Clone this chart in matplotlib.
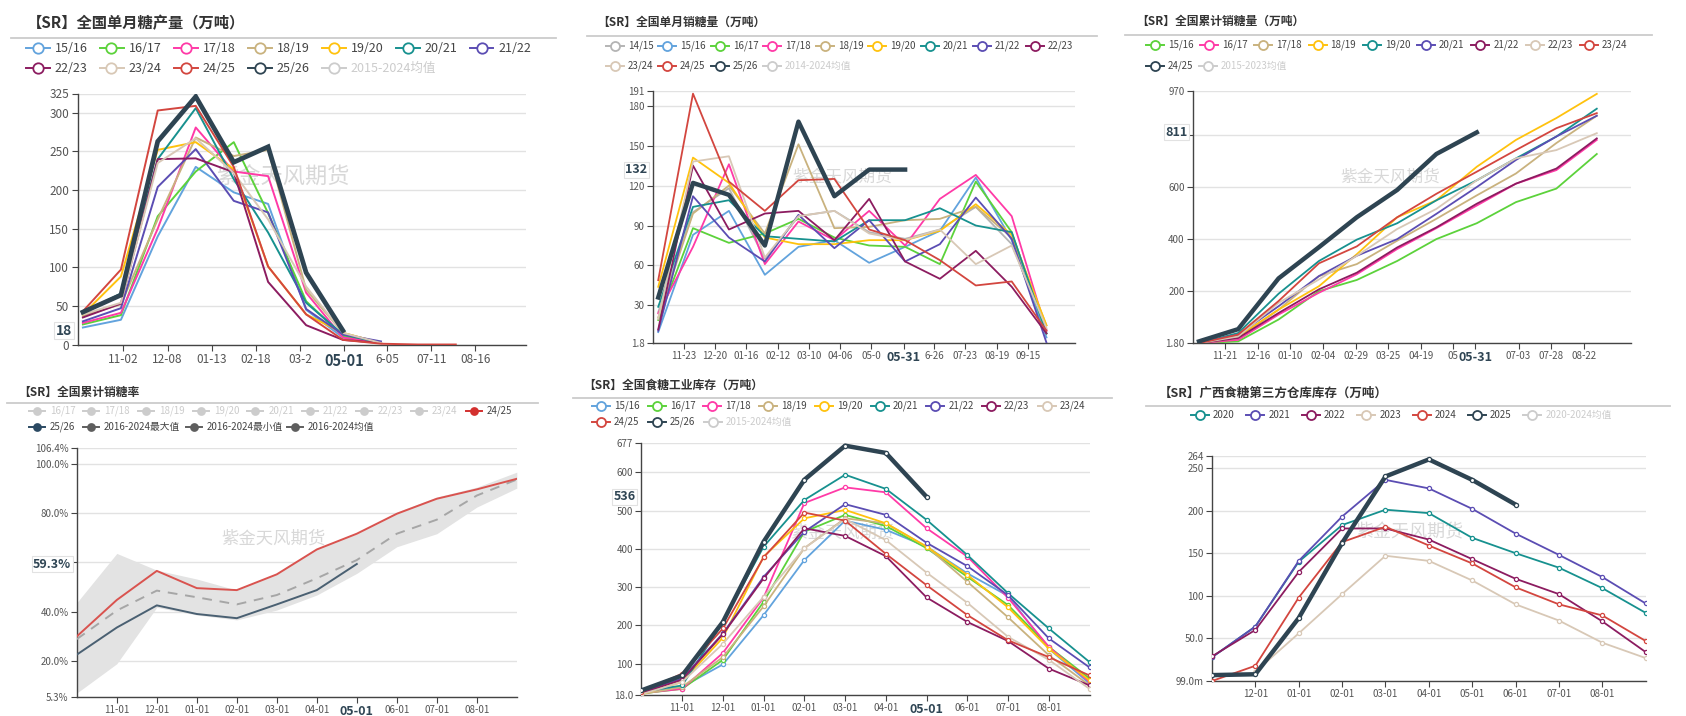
import matplotlib
matplotlib.use("Agg")
import matplotlib.pyplot as plt
import matplotlib.transforms as mtransforms
from matplotlib.lines import Line2D
import numpy as np
import pandas as pd

plt.rcParams['font.family'] = ['Noto Sans CJK SC', 'DejaVu Sans']
plt.rcParams['axes.unicode_minus'] = False

# ---------------- data ----------------
# 1) national monthly sugar output (month-end points)
prod_dates = ['2022-09-30', '2022-10-31', '2022-11-30', '2022-12-31', '2023-01-31', '2023-02-28',
              '2023-03-31', '2023-04-30', '2023-05-31', '2023-06-30', '2023-07-31']
prod_labels = ['15/16', '16/17', '17/18', '18/19', '19/20', '20/21', '21/22',
               '22/23', '23/24', '24/25', '25/26', '2015-2024均值']
prod_values = [
    [22, 32, 140, 230, 197, 182, 45, 9, 2],
    [26, 38, 166, 224, 262, 170, 56, 11, 2],
    [28, 41, 150, 281, 224, 218, 67, 9, 2],
    [37, 52, 162, 268, 244, 252, 71, 15, 2],
    [39, 88, 252, 262, 227, 101, 39, 15, 2],
    [42, 66, 240, 306, 214, 145, 54, 13, 2],
    [30, 47, 204, 253, 186, 171, 46, 13, 4],
    [35, 53, 240, 241, 223, 81, 25, 6, 2],
    [39, 54, 235, 267, 222, 162, 75, 15, 2],
    [43, 97, 303, 309, 230, 101, 39, 6, 1, 0, 0],
    [42, 64, 263, 321, 236, 256, 93, 18],
]
prod_ticks = ['2022-11-02', '2022-12-08', '2023-01-13', '2023-02-18', '2023-03-26',
              '2023-05-01', '2023-06-05', '2023-07-11', '2023-08-16']
prod_tick_labels = ['11-02', '12-08', '01-13', '02-18', '03-2', '05-01', '6-05', '07-11', '08-16']

# 2) national monthly sugar sales
sales_dates = ['2023-11-01', '2023-12-01', '2024-01-01', '2024-02-01', '2024-03-01', '2024-04-01',
               '2024-05-01', '2024-06-01', '2024-07-01', '2024-08-01', '2024-09-01', '2024-10-01']
sales_labels = ['14/15', '15/16', '16/17', '17/18', '18/19', '19/20', '20/21', '21/22', '22/23',
                '23/24', '24/25', '25/26', '2014-2024均值']
sales_values = [
    [25, 100, 118, 65, 97, 101, 85, 80, 87, 104, 76, 12],
    [10, 83, 101, 53, 74, 79, 62, 74, 86, 126, 79, 6],
    [19, 88, 77, 84, 95, 81, 75, 74, 61, 123, 85, 9],
    [24, 74, 136, 61, 93, 79, 101, 75, 110, 128, 97, 11],
    [21, 99, 120, 84, 151, 88, 89, 94, 95, 104, 81, 15],
    [44, 141, 122, 81, 76, 76, 79, 79, 86, 106, 83, 15],
    [29, 104, 109, 82, 80, 78, 94, 94, 103, 90, 85, 9],
    [11, 112, 81, 63, 98, 73, 94, 63, 76, 111, 80, 2],
    [12, 135, 87, 99, 101, 79, 110, 63, 50, 71, 44, 9],
    [20, 138, 142, 66, 97, 101, 84, 79, 87, 61, 75, 13],
    [49, 189, 123, 101, 124, 125, 87, 79, 64, 45, 48, 11],
    [36, 122, 113, 75, 168, 112, 132, 132],
]
sales_ticks = ['2023-11-23', '2023-12-20', '2024-01-16', '2024-02-12', '2024-03-10', '2024-04-06',
               '2024-05-03', '2024-05-31', '2024-06-26', '2024-07-23', '2024-08-19', '2024-09-15']
sales_tick_labels = ['11-23', '12-20', '01-16', '02-12', '03-10', '04-06', '05-0', '05-31',
                     '6-26', '07-23', '08-19', '09-15']

# 3) national cumulative sugar sales
cum_dates = ['2023-11-01', '2023-12-01', '2024-01-01', '2024-02-01', '2024-03-01', '2024-04-01',
             '2024-05-01', '2024-06-01', '2024-07-01', '2024-08-01', '2024-09-01']
cum_labels = ['15/16', '16/17', '17/18', '18/19', '19/20', '20/21', '21/22', '22/23', '23/24',
              '24/25', '2015-2023均值']
cum_values = [
    [1, 8, 92, 201, 244, 317, 401, 462, 543, 595, 728],
    [1, 14, 111, 195, 266, 363, 443, 530, 614, 666, 782],
    [1, 21, 130, 259, 305, 395, 479, 569, 653, 770, 875],
    [1, 27, 130, 220, 343, 485, 550, 679, 782, 866, 959],
    [1, 40, 191, 317, 399, 462, 550, 627, 711, 795, 902],
    [1, 34, 143, 259, 337, 401, 498, 601, 705, 795, 875],
    [1, 21, 117, 208, 272, 369, 446, 537, 614, 672, 788],
    [1, 27, 156, 246, 337, 440, 517, 627, 711, 743, 808],
    [1, 34, 163, 308, 373, 485, 575, 660, 743, 827, 885],
    [8, 55, 250, 370, 485, 590, 728, 811],
]
cum_ticks = ['2023-11-21', '2023-12-16', '2024-01-10', '2024-02-04', '2024-02-29', '2024-03-25',
             '2024-04-19', '2024-05-14', '2024-05-31', '2024-07-03', '2024-07-28', '2024-08-22']
cum_tick_labels = ['11-21', '12-16', '01-10', '02-04', '02-29', '03-25', '04-19', '05', '05-31',
                   '07-03', '07-28', '08-22']

# 4) cumulative sales rate (%)
rate_months = ['10-01', '11-01', '12-01', '01-01', '02-01', '03-01', '04-01', '05-01',
               '06-01', '07-01', '08-01', '09-01']
rate_labels = ['16/17', '17/18', '18/19', '19/20', '20/21', '21/22', '22/23', '23/24', '24/25',
               '25/26', '2016-2024最大值', '2016-2024最小值', '2016-2024均值']
rate_2425 = [29.9, 44.7, 56.5, 49.5, 48.7, 55.1, 65.2, 71.6, 79.7, 85.8, 89.6, 93.9]
rate_2526 = [22.5, 33.5, 42.5, 39.0, 37.3, 42.9, 48.7, 59.3]
rate_mean = [28.8, 40.4, 48.5, 45.8, 42.9, 46.7, 53.5, 60.9, 71.6, 77.3, 87.1, 93.6]
rate_max = [43.6, 63.6, 56.8, 53.2, 48.7, 55.5, 65.6, 71.6, 80.4, 86.5, 90.5, 96.6]
rate_min = [6.9, 18.8, 41.7, 38.6, 36.6, 40.6, 46.7, 55.5, 66.3, 71.6, 82.4, 90.1]

# 5) industrial sugar inventory
stock_months = ['10-01', '11-01', '12-01', '01-01', '02-01', '03-01', '04-01', '05-01',
                '06-01', '07-01', '08-01', '09-01']
stock_labels = ['15/16', '16/17', '17/18', '18/19', '19/20', '20/21', '21/22', '22/23', '23/24',
                '24/25', '25/26', '2015-2024均值']
stock_values = [
    [22, 39, 98, 227, 371, 474, 450, 406, 336, 277, 139, 48],
    [22, 34, 110, 262, 445, 489, 460, 402, 327, 253, 144, 61],
    [23, 34, 128, 273, 520, 561, 548, 454, 380, 272, 144, 52],
    [20, 39, 117, 250, 402, 480, 467, 406, 314, 221, 122, 43],
    [20, 52, 168, 380, 480, 502, 467, 406, 332, 247, 139, 56],
    [26, 43, 209, 406, 528, 594, 557, 476, 384, 284, 192, 104],
    [26, 61, 179, 327, 445, 517, 489, 416, 355, 279, 166, 90],
    [23, 58, 177, 323, 454, 434, 381, 273, 209, 159, 87, 43],
    [20, 52, 152, 275, 402, 478, 423, 338, 259, 170, 110, 34],
    [26, 74, 192, 378, 495, 474, 387, 305, 227, 161, 117, 69],
    [30, 69, 209, 419, 581, 670, 651, 536],
]

# 6) Guangxi third-party warehouse stock
gx_months = ['11-01', '12-01', '01-01', '02-01', '03-01', '04-01', '05-01', '06-01',
             '07-01', '08-01', '09-01']
gx_labels = ['2020', '2021', '2022', '2023', '2024', '2025', '2020-2024均值']
gx_values = [
    [28, 64, 140, 183, 201, 197, 168, 150, 133, 109, 80],
    [28, 64, 141, 193, 236, 226, 202, 173, 148, 122, 91],
    [29, 60, 128, 179, 179, 166, 143, 120, 102, 70, 34],
    [np.nan, 11, 56, 102, 147, 141, 118, 90, 71, 45, 27],
    [0.1, 18, 98, 163, 181, 159, 138, 110, 90, 77, 47],
    [7, 8, 74, 162, 240, 260, 236, 207],
]

# ---------------- styling ----------------
palette = ['#62a3dd', '#5cd23b', '#ff3aa7', '#c9b27e', '#ffc20e', '#17918f', '#5b4db3',
           '#8c1c60', '#d8c8b6', '#d3463f', '#2e4452']
gray_line = '#b4b4b4'
hidden_col = '#cccccc'
dark = '#2f4554'

W, H = 1686, 716
fig = plt.figure(figsize=(W / 100, H / 100), dpi=100)


def fx(x):
    return x / W


def fy(y):
    return 1 - y / H


def make_axes(l, t, r, b):
    return fig.add_axes([fx(l), fy(b), (r - l) / W, (b - t) / H])


def header(title, x, y, fs, x0, x1, ysep):
    fig.text(fx(x), fy(y), title, fontsize=fs, fontweight='bold', color='#333333',
             ha='left', va='center')
    fig.add_artist(Line2D([fx(x0), fx(x1)], [fy(ysep)] * 2, color='#cccccc', lw=1.3))


def legend(labels, colors, xs, ys, fs, hidden=(), filled=False, half=12, gap=16, ms=7.5):
    for lab, c, x, y in zip(labels, colors, xs, ys):
        off = lab in hidden
        col = hidden_col if off else c
        fig.add_artist(Line2D([fx(x - half), fx(x + half)], [fy(y)] * 2, color=col, lw=1.4))
        fig.add_artist(Line2D([fx(x)], [fy(y)], marker='o', ms=ms, mec=col,
                              mfc=col if filled else 'white', mew=1.3, ls='none'))
        fig.text(fx(x + gap), fy(y), lab, fontsize=fs, color=hidden_col if off else '#444444',
                 ha='left', va='center')


def style(ax, yticks, ylabels, fs):
    ax.set_yticks(yticks, ylabels)
    ax.spines[['top', 'right']].set_visible(False)
    for s in ('left', 'bottom'):
        ax.spines[s].set_color('#444444')
        ax.spines[s].set_linewidth(1)
    ax.grid(axis='y', color='#e2e2e2', lw=1)
    ax.set_axisbelow(True)
    ax.tick_params(colors='#444444', labelcolor='#555555', labelsize=fs, length=4,
                   width=0.8, pad=2)


def xticks(ax, pos, labels, hot=None, hot_fs=9.5):
    ax.set_xticks(pos, labels)
    if hot is not None:
        t = ax.get_xticklabels()[hot]
        t.set_fontweight('bold')
        t.set_fontsize(hot_fs)
        t.set_color(dark)


def pointer_y(ax, val, text, fs):
    tr = mtransforms.blended_transform_factory(ax.transAxes, ax.transData)
    ax.annotate(text, (0, val), xycoords=tr, xytext=(-4, 0), textcoords='offset points',
                ha='right', va='center', fontsize=fs, fontweight='bold', color=dark,
                bbox=dict(boxstyle='square,pad=0.12', fc='white', ec='#e2e2e2', lw=0.8),
                zorder=10, annotation_clip=False)


def watermark(ax, x, y, fs):
    ax.text(fx(x), fy(y), '紫金天风期货', transform=fig.transFigure, fontsize=fs,
            color='#c8c8c8', alpha=0.7, ha='center', va='center', zorder=1)


def day(s, d=0):
    return pd.Timestamp(s) + pd.Timedelta(days=d)


# ---------------- panel 1 ----------------
header('【SR】全国单月糖产量（万吨）', 27, 23, 11, 11, 556, 38)
xs = [37.5 + 74 * i for i in range(7)] + [37.5 + 74 * i for i in range(5)]
ys = [48] * 7 + [68] * 5
legend(prod_labels, palette + [hidden_col], xs, ys, 9, hidden=('2015-2024均值',),
       half=12, gap=17)
ax = make_axes(77.5, 93.5, 525.7, 344.5)
d = pd.to_datetime(prod_dates)
for i, vals in enumerate(prod_values):
    last = i == len(prod_values) - 1
    ax.plot(d[:len(vals)], vals, color=palette[i], lw=3.4 if last else 1.4,
            zorder=5 if last else 3, solid_joinstyle='miter' if last else 'round')
ax.set_xlim(day(prod_dates[0], -4.4), day(prod_dates[0], 361))
ax.set_ylim(0, 325)
style(ax, [0, 50, 100, 150, 200, 250, 300, 325], ['0', '50', '100', '150', '200', '250', '300', '325'], 8.5)
xticks(ax, pd.to_datetime(prod_ticks), prod_tick_labels, hot=5, hot_fs=10.5)
pointer_y(ax, 18, '18', 10)
watermark(ax, 283, 177, 16)

# ---------------- panel 2 ----------------
header('【SR】全国单月销糖量（万吨）', 597, 22, 8.5, 587, 1097, 36)
xs = [614.6 + 52.5 * i for i in range(9)] + [614.6 + 52.5 * i for i in range(4)]
ys = [46] * 9 + [66] * 4
cols2 = [gray_line] + palette + [hidden_col]
legend(sales_labels, cols2, xs, ys, 7, hidden=('2014-2024均值',), half=9, gap=13, ms=6.5)
ax = make_axes(652.9, 91, 1075, 343)
d = pd.to_datetime(sales_dates)
for i, vals in enumerate(sales_values):
    last = i == len(sales_values) - 1
    ax.plot(d[:len(vals)], vals, color=cols2[i], lw=3.2 if last else 1.3, zorder=5 if last else 3)
ax.set_xlim(day(sales_dates[0], -4.6), day(sales_dates[0], 359.6))
ax.set_ylim(1.8, 191)
style(ax, [1.8, 30, 60, 90, 120, 150, 180, 191], ['1.8', '30', '60', '90', '120', '150', '180', '191'], 7)
xticks(ax, pd.to_datetime(sales_ticks), sales_tick_labels, hot=7, hot_fs=9)
pointer_y(ax, 132, '132', 9)
watermark(ax, 842, 177, 12)

# ---------------- panel 3 ----------------
header('【SR】全国累计销糖量（万吨）', 1136, 21, 8.5, 1125, 1652, 35)
xs = [1154.6 + 54.3 * i for i in range(9)] + [1154.6, 1208]
ys = [45] * 9 + [66] * 2
cols3 = palette[1:] + [hidden_col]
legend(cum_labels, cols3, xs, ys, 7, hidden=('2015-2023均值',), half=9, gap=13, ms=6.5)
ax = make_axes(1193, 91, 1630.7, 343)
d = pd.to_datetime(cum_dates)
for i, vals in enumerate(cum_values):
    last = i == len(cum_values) - 1
    ax.plot(d[:len(vals)], vals, color=cols3[i], lw=3.2 if last else 1.3, zorder=5 if last else 3)
ax.set_xlim(day(cum_dates[0], -4.6), day(cum_dates[0], 331))
ax.set_ylim(1.8, 970)
style(ax, [1.8, 200, 400, 600, 800, 970], ['1.80', '200', '400', '600', '', '970'], 7)
xticks(ax, pd.to_datetime(cum_ticks), cum_tick_labels, hot=8, hot_fs=9)
pointer_y(ax, 811, '811', 9)
watermark(ax, 1390, 177, 12)

# ---------------- panel 4 ----------------
header('【SR】全国累计销糖率', 18, 392, 8.5, 7, 538, 403)
xs = [36.8 + 54.6 * i for i in range(9)] + [36.8, 91, 194, 295]
ys = [411] * 9 + [427] * 4
cols4 = [hidden_col] * 8 + ['#d3302f', '#2b4a63', '#5e5e5e', '#5e5e5e', '#5e5e5e']
legend(rate_labels, cols4, xs, ys, 7, hidden=tuple(rate_labels[:8]), filled=True,
       half=8, gap=13, ms=5)
ax = make_axes(76.8, 448, 516.8, 697)
x = np.arange(len(rate_months))
ax.fill_between(x, rate_min, rate_max, color='#e3e3e3', lw=0, zorder=2)
ax.plot(x, rate_mean, color='#a6a6a6', lw=1.4, ls=(0, (5, 4)), zorder=3)
ax.plot(x, rate_2425, color='#d9534f', lw=1.4, zorder=4)
ax.plot(x[:len(rate_2526)], rate_2526, color='#4a6072', lw=1.4, zorder=4)
ax.set_xlim(0, len(rate_months) - 1)
ax.set_ylim(5.3, 106.4)
style(ax, [5.3, 20, 40, 60, 80, 100, 106.4],
      ['5.3%', '20.0%', '40.0%', '', '80.0%', '100.0%', '106.4%'], 7)
xticks(ax, x[1:-1], rate_months[1:-1], hot=6, hot_fs=9)
pointer_y(ax, 59.3, '59.3%', 9)
watermark(ax, 273, 539, 12.5)

# ---------------- panel 5 ----------------
header('【SR】全国食糖工业库存（万吨）', 583, 385, 8.5, 572.5, 1112, 398)
xs = [601 + 55.7 * i for i in range(9)] + [601, 656.7, 712.5]
ys = [406] * 9 + [422] * 3
legend(stock_labels, palette + [hidden_col], xs, ys, 7, hidden=('2015-2024均值',),
       half=9, gap=13, ms=6.5)
ax = make_axes(641.4, 443, 1089.6, 695)
x = np.arange(len(stock_months))
for i, vals in enumerate(stock_values):
    last = i == len(stock_values) - 1
    ax.plot(x[:len(vals)], vals, color=palette[i], lw=3.2 if last else 1.3,
            marker='o', ms=3, mfc='white', mew=0.9, zorder=5 if last else 3)
ax.set_xlim(0, len(stock_months) - 1)
ax.set_ylim(18, 677)
style(ax, [18, 100, 200, 300, 400, 500, 600, 677],
      ['18.0', '100', '200', '300', '400', '500', '600', '677'], 7)
xticks(ax, x[1:-1], stock_months[1:-1], hot=6, hot_fs=9)
pointer_y(ax, 536, '536', 9)
watermark(ax, 842, 533, 12.5)

# ---------------- panel 6 ----------------
header('【SR】广西食糖第三方仓库库存（万吨）', 1159, 393, 9, 1146, 1670, 406)
xs = [1200 + 55.4 * i for i in range(7)]
ys = [415] * 7
cols6 = palette[5:] + [hidden_col]
legend(gx_labels, cols6, xs, ys, 7, hidden=('2020-2024均值',), half=9, gap=13, ms=6.5)
ax = make_axes(1212, 456, 1645.7, 681)
x = np.arange(len(gx_months))
for i, vals in enumerate(gx_values):
    last = i == len(gx_values) - 1
    ax.plot(x[:len(vals)], vals, color=cols6[i], lw=3.2 if last else 1.3,
            marker='o', ms=3, mfc='white', mew=0.9, zorder=5 if last else 3)
ax.set_xlim(0, len(gx_months) - 1)
ax.set_ylim(0.099, 264)
style(ax, [0.099, 50, 100, 150, 200, 250, 264],
      ['99.0m', '50.0', '100', '150', '200', '250', '264'], 7)
xticks(ax, x[1:-1], gx_months[1:-1])
watermark(ax, 1409, 532, 13)

fig.savefig('out.png', dpi=100, facecolor='white')
